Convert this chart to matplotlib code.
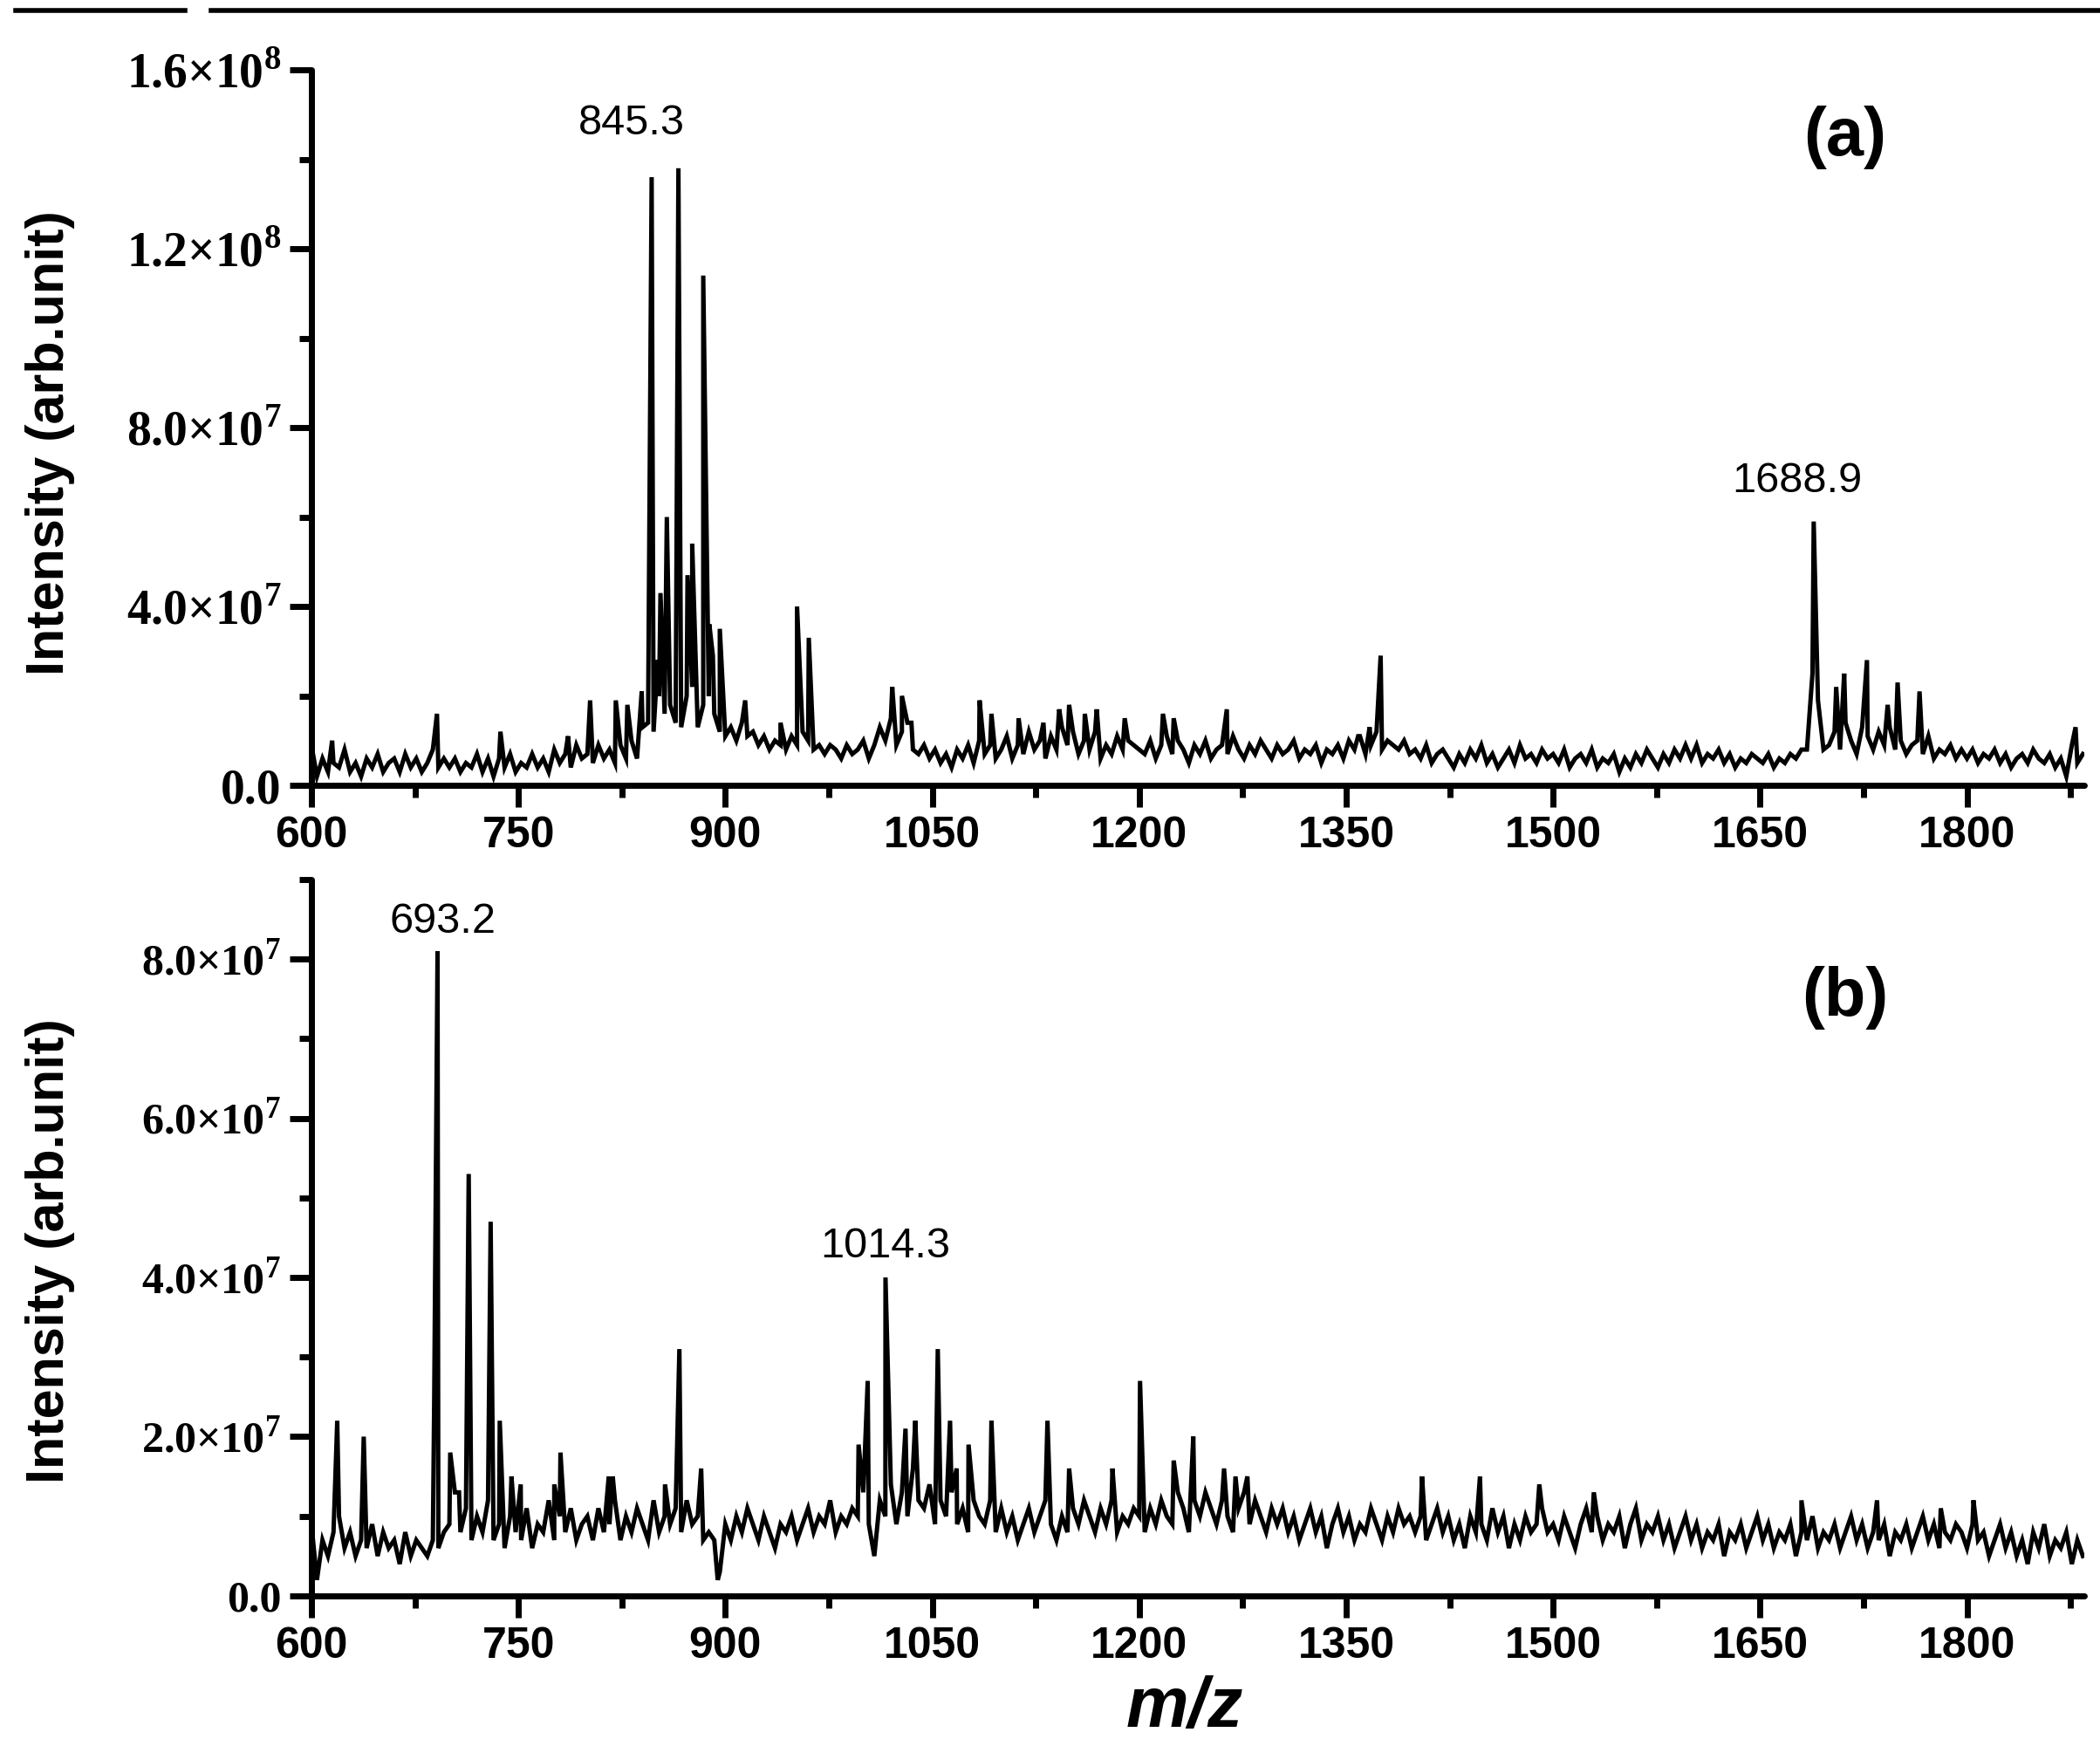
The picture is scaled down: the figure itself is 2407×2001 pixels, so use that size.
import numpy as np
import matplotlib.pyplot as plt

plt.rcParams['mathtext.fontset'] = 'custom'
plt.rcParams['mathtext.rm'] = 'Liberation Serif:bold'
plt.rcParams['mathtext.bf'] = 'Liberation Serif:bold'

# m/z grid of the baseline: one value every 4 units from 600
mz_start = 600
mz_step = 4

# ---- panel (a): baseline, in units of 1e6
base_a = [
    9, 2, 6, 3, 5, 4, 8, 3, 5, 2, 6, 4, 7, 3, 5, 6, 3, 7, 4, 6, 3, 5, 8, 4, 6,
    4, 6, 3, 5, 4, 7, 3, 6, 2, 6, 4, 7, 3, 5, 4, 7, 4, 6, 3, 8, 5, 7, 4, 9, 6,
    7, 5, 9, 6, 8, 5, 9, 6, 10, 6, 13, 14, 12, 20, 16, 18, 14, 13, 20, 22, 13, 18, 20, 16, 12,
    11, 13, 10, 14, 11, 12, 9, 11, 8, 10, 9, 8, 11, 9, 12, 10, 8, 9, 7, 9, 8, 6, 9, 7, 8,
    10, 6, 9, 13, 10, 15, 9, 12, 14, 8, 7, 9, 6, 8, 5, 7, 4, 8, 6, 9, 5, 10, 7, 9, 6,
    8, 11, 6, 9, 7, 12, 8, 10, 6, 11, 8, 13, 9, 12, 7, 10, 8, 12, 6, 9, 7, 11, 8, 10, 9,
    8, 7, 10, 6, 9, 11, 7, 10, 8, 5, 9, 7, 10, 6, 8, 9, 7, 11, 8, 6, 9, 7, 10, 8, 6,
    9, 7, 8, 10, 6, 8, 7, 9, 5, 8, 7, 9, 6, 10, 8, 11, 7, 9, 12, 8, 10, 9, 8, 10, 7,
    8, 6, 9, 5, 7, 8, 6, 4, 7, 5, 8, 6, 9, 5, 7, 4, 6, 8, 5, 9, 6, 7, 5, 8, 6,
    7, 5, 8, 4, 6, 7, 5, 8, 4, 6, 5, 7, 3, 6, 4, 7, 5, 8, 6, 4, 7, 5, 8, 6, 9,
    6, 9, 5, 7, 6, 8, 5, 7, 4, 6, 5, 7, 6, 5, 7, 4, 6, 5, 7, 6, 8, 8, 25, 19, 8,
    9, 12, 8, 14, 10, 7, 13, 11, 8, 12, 9, 13, 8, 10, 7, 9, 10, 7, 11, 6, 8, 7, 9, 6, 8,
    6, 8, 5, 7, 6, 8, 5, 7, 4, 6, 7, 5, 8, 6, 5, 7, 4, 6, 2, 9, 5, 7,
]
# ---- panel (a): peaks (m/z, height in 1e6)
peak_a_mz = [615, 691, 737, 786, 802, 820.6, 829, 839.4, 846.6, 851, 853, 857.6,
             866, 872.6, 876, 884, 888.4, 891, 896, 914.4, 940, 952, 960.5,
             1021, 1028, 1034.9, 1084.3, 1092.9, 1112.6, 1130.6, 1142, 1149.2,
             1160.6, 1169.2, 1189.5, 1217.2, 1225, 1263.5, 1358.7, 1367, 1375,
             1688.9, 1705.2, 1711, 1727.5, 1742.5, 1749.7, 1765.6, 1878.7]
peak_a_h = [10, 16, 12, 11, 19, 19, 18, 21, 136, 28, 43, 60,
            138, 47, 54, 114, 36, 29, 35, 19, 14, 40, 33,
            22, 20, 14, 19, 16, 15, 14, 17, 18,
            16, 17, 15, 16, 15, 17, 11, 13, 29,
            59, 22, 25, 28, 18, 23, 21, 13]

# ---- panel (b): baseline, in units of 1e6
base_b = [
    9, 2, 7, 5, 8, 10, 6, 8, 5, 7, 6, 9, 5, 8, 6, 7, 4, 8, 5, 7, 6, 5, 7, 6, 8,
    9, 13, 8, 11, 7, 10, 8, 12, 7, 9, 6, 10, 8, 7, 11, 6, 9, 8, 12, 7, 10, 8, 11, 7, 9,
    10, 7, 11, 8, 9, 12, 7, 10, 8, 11, 9, 7, 12, 8, 10, 9, 11, 8, 12, 9, 10, 7, 8, 7, 3,
    9, 7, 10, 8, 11, 9, 7, 10, 8, 6, 9, 8, 10, 7, 9, 11, 8, 10, 9, 12, 8, 10, 9, 11, 10,
    13, 9, 5, 12, 10, 14, 9, 13, 10, 16, 12, 11, 14, 9, 12, 10, 13, 9, 11, 8, 12, 10, 9, 12, 8,
    11, 8, 10, 7, 9, 11, 8, 10, 12, 9, 7, 10, 8, 11, 9, 12, 10, 8, 11, 9, 12, 8, 10, 9, 11,
    10, 8, 11, 9, 12, 10, 9, 13, 11, 8, 12, 10, 13, 11, 9, 12, 10, 8, 11, 13, 9, 12, 10, 8, 11,
    9, 11, 8, 10, 7, 9, 11, 8, 10, 6, 9, 11, 8, 10, 7, 9, 8, 11, 9, 7, 10, 8, 11, 9, 10,
    8, 10, 7, 9, 11, 8, 10, 7, 9, 6, 10, 8, 9, 7, 11, 8, 10, 6, 9, 7, 10, 8, 9, 11, 8,
    9, 7, 10, 8, 6, 9, 11, 8, 10, 7, 9, 8, 10, 6, 9, 11, 7, 9, 8, 10, 7, 9, 6, 8, 10,
    7, 9, 6, 8, 7, 9, 5, 8, 7, 9, 6, 8, 10, 7, 9, 6, 8, 7, 9, 5, 8, 7, 10, 6, 8,
    7, 9, 6, 8, 10, 7, 9, 6, 8, 7, 9, 5, 8, 7, 9, 6, 8, 10, 7, 9, 6, 8, 7, 9, 8,
    6, 9, 7, 8, 5, 7, 9, 6, 8, 5, 7, 4, 8, 6, 9, 5, 7, 6, 8, 4, 7, 5,
]
peak_b_mz = [618.7, 637.9, 689, 691.4, 700.6, 707, 714, 729.9, 736.5, 745, 751.7,
             776, 780.5, 815.5, 818.4, 856.3, 866.7, 882.5, 894.5, 996.6, 1003.2,
             1008, 1016.1, 1030.6, 1037.7, 1054, 1062.9, 1067.7, 1076.3, 1092.9,
             1133.5, 1149.2, 1180.6, 1200.6, 1225, 1239.2, 1261.5, 1269.8, 1278.4,
             1405, 1447, 1490, 1529.5, 1680, 1734.8, 1781, 1804.7]
peak_b_h = [22, 20, 25, 81, 18, 13, 53, 47, 22, 15, 14,
            14, 18, 15, 15, 14, 31, 16, 2, 19, 27,
            5, 40, 21, 22, 31, 22, 16, 19, 22,
            22, 16, 16, 27, 17, 20, 16, 15, 15,
            15, 15, 14, 13, 12, 12, 11, 12]

xticks = [600, 750, 900, 1050, 1200, 1350, 1500, 1650, 1800]
xticks_minor = [675, 825, 975, 1125, 1275, 1425, 1575, 1725, 1875]
yticks_a = [0, 4e7, 8e7, 1.2e8, 1.6e8]
ylabels_a = ['0.0', '4.0\u00d710$^7$', '8.0\u00d710$^7$', '1.2\u00d710$^8$', '1.6\u00d710$^8$']
yminor_a = [2e7, 6e7, 1e8, 1.4e8]
yticks_b = [0, 2e7, 4e7, 6e7, 8e7]
ylabels_b = ['0.0', '2.0\u00d710$^7$', '4.0\u00d710$^7$', '6.0\u00d710$^7$', '8.0\u00d710$^7$']
yminor_b = [1e7, 3e7, 5e7, 7e7, 9e7]


def spectrum(base, pk_mz, pk_h):
    x = mz_start + mz_step * np.arange(len(base))
    xs = np.concatenate([x, np.array(pk_mz, float)])
    ys = np.concatenate([np.array(base, float), np.array(pk_h, float)])
    order = np.argsort(xs, kind='stable')
    return xs[order], ys[order] * 1e6


def style(ax, ymax, yt, yl, ym, ysize):
    for s in ['top', 'right']:
        ax.spines[s].set_visible(False)
    for s in ['left', 'bottom']:
        ax.spines[s].set_linewidth(5)
        ax.spines[s].set_capstyle('round')
    ax.set_xlim(600, 1885)
    ax.set_ylim(0, ymax)
    ax.set_xticks(xticks, [str(v) for v in xticks], fontsize=36,
                  fontweight='bold', fontfamily='Liberation Sans')
    ax.set_xticks(xticks_minor, minor=True)
    ax.set_yticks(yt, yl, fontsize=ysize, fontweight='bold',
                  fontfamily='Liberation Serif')
    ax.set_yticks(ym, minor=True)
    ax.tick_params(which='major', direction='out', length=18, width=5, pad=7)
    ax.tick_params(which='minor', direction='out', length=10, width=5)


fig = plt.figure(figsize=(24.07, 20.01), dpi=100)
ax1 = fig.add_axes([0.1483, 0.5502, 0.8442, 0.4098])
ax2 = fig.add_axes([0.1483, 0.0860, 0.8442, 0.4103])

xa, ya = spectrum(base_a, peak_a_mz, peak_a_h)
xb, yb = spectrum(base_b, peak_b_mz, peak_b_h)
ax1.plot(xa, ya, color='black', lw=3.6, solid_joinstyle='miter')
ax2.plot(xb, yb, color='black', lw=3.6, solid_joinstyle='miter')

style(ax1, 1.6e8, yticks_a, ylabels_a, yminor_a, 40)
style(ax2, 9e7, yticks_b, ylabels_b, yminor_b, 36)

lab = dict(fontsize=35, fontfamily='Liberation Sans', ha='center', va='baseline')
ax1.text(832, 1.455e8, '845.3', **lab)
ax1.text(1677, 6.55e7, '1688.9', **lab)
ax2.text(695, 8.33e7, '693.2', **lab)
ax2.text(1016, 4.25e7, '1014.3', **lab)

ax1.text(0.865, 0.905, '(a)', transform=ax1.transAxes, fontsize=56,
         fontweight='bold', fontfamily='Liberation Sans', ha='center', va='center')
ax2.text(0.865, 0.835, '(b)', transform=ax2.transAxes, fontsize=56,
         fontweight='bold', fontfamily='Liberation Sans', ha='center', va='center')

ylab = dict(fontsize=44, fontweight='bold', fontfamily='Liberation Sans',
            rotation=90, ha='center', va='center')
fig.text(58 / 2407, 1 - 508 / 2001, 'Intensity (arb.unit)', **ylab)
fig.text(58 / 2407, 1 - 1434 / 2001, 'Intensity (arb.unit)', **ylab)
fig.text(1358 / 2407, 1 - 1958 / 2001, 'm/z', fontsize=58, fontweight='bold',
         fontstyle='italic', fontfamily='Liberation Sans', ha='center', va='center')

# rule along the top edge of the page
fig.add_artist(plt.Line2D([0.0075, 0.088], [0.994, 0.994], color='black',
                          lw=4, transform=fig.transFigure))
fig.add_artist(plt.Line2D([0.1005, 1.0], [0.994, 0.994], color='black',
                          lw=4, transform=fig.transFigure))

fig.savefig('out.png', dpi=100)
